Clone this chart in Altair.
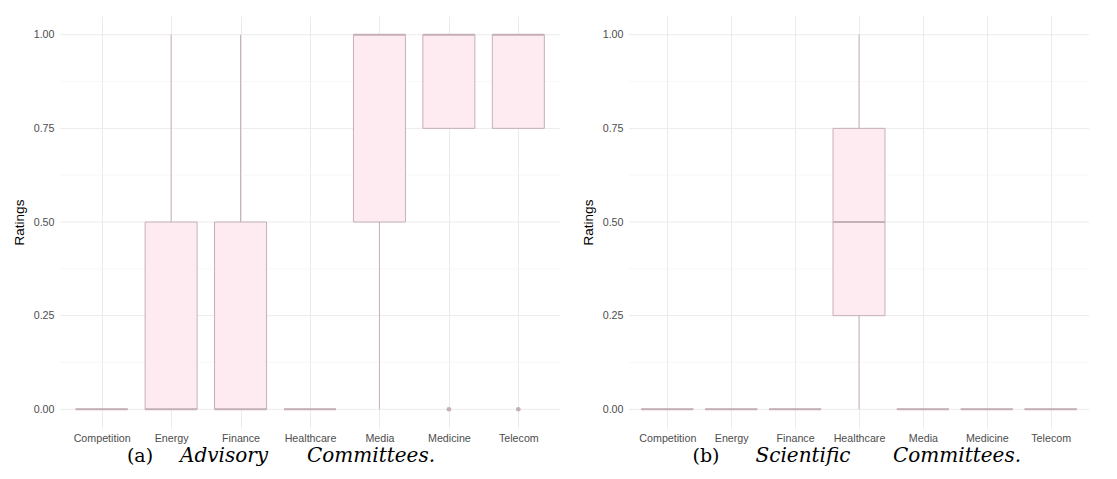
import altair as alt
import pandas as pd

cats = ["Competition", "Energy", "Finance", "Healthcare", "Media", "Medicine", "Telecom"]

adv_lower = [0, 0, 0, 0, 0, 0.75, 0.75]
adv_q1 = [0, 0, 0, 0, 0.5, 0.75, 0.75]
adv_med = [0, 0, 0, 0, 1, 1, 1]
adv_q3 = [0, 0.5, 0.5, 0, 1, 1, 1]
adv_upper = [0, 1, 1, 0, 1, 1, 1]
adv_out_cat = ["Medicine", "Telecom"]
adv_out_val = [0, 0]

sci_lower = [0, 0, 0, 0, 0, 0, 0]
sci_q1 = [0, 0, 0, 0.25, 0, 0, 0]
sci_med = [0, 0, 0, 0.5, 0, 0, 0]
sci_q3 = [0, 0, 0, 0.75, 0, 0, 0]
sci_upper = [0, 0, 0, 1, 0, 0, 0]
sci_out_cat = []
sci_out_val = []

y_ticks = [0, 0.25, 0.5, 0.75, 1.0]
y_minor = [0.125, 0.375, 0.625, 0.875]

cap_a_label = "(a)"
cap_a_words = ["Advisory", "Committees."]
cap_b_label = "(b)"
cap_b_words = ["Scientific", "Committees."]

FILL = "#FDEBF1"
STROKE = "#C6B0B8"
GRID = "#EBEBEB"
LABEL_FONT = "Liberation Sans"
CAP_FONT = "DejaVu Serif"

H = 412
CAP_Y = H + 34


def panel(lower, q1, med, q3, upper, out_cat, out_val, label, words, width, rng,
          grid_end, cap_x):
    df = pd.DataFrame({"cat": cats, "lower": lower, "q1": q1, "med": med,
                       "q3": q3, "upper": upper})
    xscale = alt.Scale(type="point", domain=cats, range=rng, padding=0.6)
    yscale = alt.Scale(domain=[-0.05, 1.05], nice=False, zero=False)
    xenc = alt.X("cat:N", scale=xscale, sort=cats,
                 axis=alt.Axis(title=None, labelAngle=0, domain=False, ticks=False,
                               grid=True, gridColor=GRID, gridWidth=1,
                               labelFont=LABEL_FONT, labelFontSize=10.7,
                               labelColor="#4D4D4D", labelPadding=5))
    yaxis = alt.Axis(title="Ratings", values=y_ticks, format=".2f", domain=False,
                     ticks=False, grid=False,
                     labelFont=LABEL_FONT, labelFontSize=10.7, labelColor="#4D4D4D",
                     labelPadding=6, titleFont=LABEL_FONT, titleFontSize=13.5,
                     titleFontWeight="normal", titleColor="black", titlePadding=7)

    minor = alt.Chart(pd.DataFrame({"v": y_minor})).mark_rule(
        color="#F3F3F3", strokeWidth=0.6).encode(
        y=alt.Y("v:Q", scale=yscale, axis=yaxis),
        x=alt.value(0), x2=alt.value(grid_end))
    major = alt.Chart(pd.DataFrame({"v": y_ticks})).mark_rule(
        color=GRID, strokeWidth=1).encode(
        y=alt.Y("v:Q", scale=yscale),
        x=alt.value(0), x2=alt.value(grid_end))

    base = alt.Chart(df)
    whisk = base.mark_rule(color=STROKE, strokeWidth=1).encode(
        x=xenc, y=alt.Y("lower:Q", scale=yscale), y2="upper:Q")
    box = base.mark_bar(size=52, fill=FILL, stroke=STROKE, strokeWidth=1).encode(
        x=xenc, y=alt.Y("q1:Q", scale=yscale), y2="q3:Q")
    medt = base.mark_tick(size=52, thickness=2, color=STROKE, opacity=1).encode(
        x=xenc, y=alt.Y("med:Q", scale=yscale))
    layers = [minor, major, whisk, box, medt]
    if out_cat:
        odf = pd.DataFrame({"cat": out_cat, "v": out_val})
        pts = alt.Chart(odf).mark_circle(size=22, color=STROKE, opacity=1).encode(
            x=xenc, y=alt.Y("v:Q", scale=yscale))
        layers.append(pts)

    c0 = alt.Chart(pd.DataFrame({"t": [label]})).mark_text(
        font=CAP_FONT, fontSize=19, align="center", baseline="alphabetic",
        color="black").encode(text="t:N", x=alt.value(cap_x[0]), y=alt.value(CAP_Y))
    layers.append(c0)
    for w, cx in zip(words, cap_x[1:]):
        cw = alt.Chart(pd.DataFrame({"t": [w]})).mark_text(
            font=CAP_FONT, fontSize=20, fontStyle="italic", align="center",
            baseline="alphabetic", color="black").encode(
            text="t:N", x=alt.value(cx), y=alt.value(CAP_Y))
        layers.append(cw)
    return alt.layer(*layers).properties(width=width, height=H)


left = panel(adv_lower, adv_q1, adv_med, adv_q3, adv_upper, adv_out_cat, adv_out_val,
             cap_a_label, cap_a_words, 500, [0, 500], 500, (80, 164, 311))
right = panel(sci_lower, sci_q1, sci_med, sci_q3, sci_upper, sci_out_cat, sci_out_val,
              cap_b_label, cap_b_words, 460, [0, 460], 460, (77, 174, 328))

chart = alt.hconcat(left, right, spacing=20).properties(
    padding={"left": 4, "top": 8, "right": 0, "bottom": 0},
    background="white",
).configure_view(stroke=None)

chart.save("out.html", embed_options={"renderer": "svg", "actions": False})
